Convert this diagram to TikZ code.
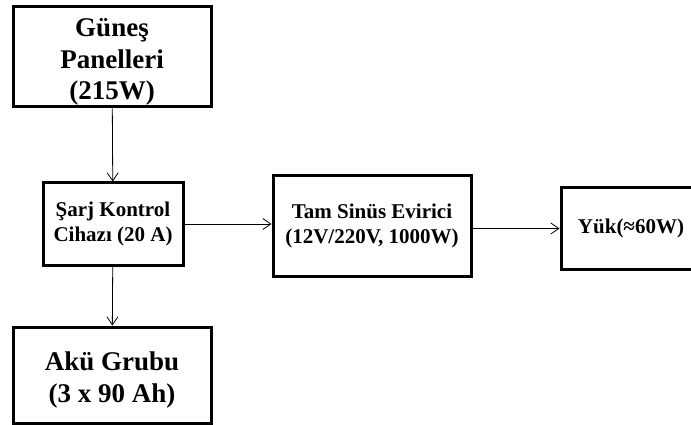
\documentclass[tikz,border=0pt]{standalone}
\usepackage{fontspec}
\setmainfont{Liberation Serif}
\usetikzlibrary{arrows.meta}

\tikzset{
    kutu/.style={draw, line width=3pt, inner sep=0pt, align=center, font=\bfseries\fontsize{21}{24.5}\selectfont},
    yazi/.style={inner sep=0pt, align=center, font=\bfseries\fontsize{27}{31.5}\selectfont},
    ok/.style={->, line width=0.8pt, >={Straight Barb[length=8pt,width=11pt]}}
}

\begin{document}
\begin{tikzpicture}[x=1pt, y=-1pt]
        \useasboundingbox (0,0) rectangle (691,425);  % page size of the reference

        \node[kutu, minimum width=198pt, minimum height=100pt] (panel) at (112,57) {};
        \node[yazi] (panelyazi) at ([yshift=-5pt]panel.center) {Güneş\\Panelleri\\(215W)};
        \node[kutu, minimum width=140pt, minimum height=82pt] (sarj) at (113,224) {Şarj Kontrol\\Cihazı (20 A)};
        \node[kutu, minimum width=198pt, minimum height=96pt] (aku) at (112,375) {};
        \node[yazi] (akuyazi) at ([yshift=-5pt]aku.center) {Akü Grubu\\(3 x 90 Ah)};
        \node[kutu, minimum width=198pt, minimum height=101pt] (evirici) at (372,226) {Tam Sinüs Evirici\\(12V/220V, 1000W)};
        \node[kutu, minimum width=140pt, minimum height=81pt] (yuk) at (631,228.5) {Yük(≈60W)};

        \draw[ok] (panel) -- (sarj);
        \draw[ok] (sarj) -- (aku);
        \draw[ok] (sarj) -- (sarj -| evirici.west);
        \draw[ok] (evirici.east |- yuk.west) -- (yuk.west);
\end{tikzpicture}
\end{document}
